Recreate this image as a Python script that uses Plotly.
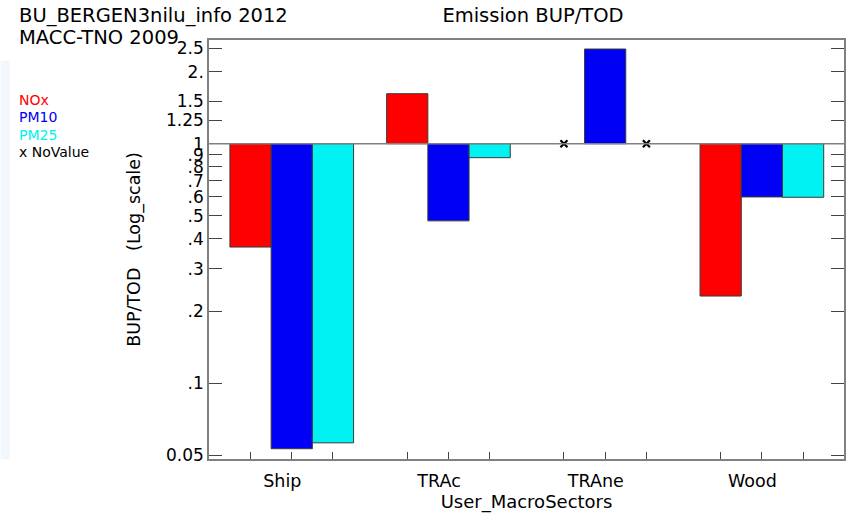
import plotly.graph_objects as go

# ---------------- data ----------------
categories = ["Ship", "TRAc", "TRAne", "Wood"]
series_names = ["NOx", "PM10", "PM25"]
nox = [0.37, 1.617, None, 0.231]
pm10 = [0.0532, 0.476, 2.485, 0.599]
pm25 = [0.0563, 0.874, None, 0.597]
y_tick_values = [0.05, 0.1, 0.2, 0.3, 0.4, 0.5, 0.6, 0.7, 0.8, 0.9, 1, 1.25, 1.5, 2, 2.5]
y_tick_labels = ["0.05", ".1", ".2", ".3", ".4", ".5", ".6", ".7", ".8", ".9", "1", "1.25", "1.5", "2.", "2.5"]
header_lines = ["BU_BERGEN3nilu_info 2012", "MACC-TNO 2009"]
chart_title = "Emission BUP/TOD"
x_title = "User_MacroSectors"
y_title = "BUP/TOD\u00a0\u00a0\u00a0(Log_scale)"
novalue_label = "x NoValue"
baseline = 1.0

# ---------------- styles ----------------
colors = ["#ff0000", "#0000f5", "#00f2f2"]
FONT = "DejaVu Sans"
bw = 0.263
offsets = [-bw, 0.0, bw]
series = [nox, pm10, pm25]

fig = go.Figure()
missing_x = []
for k, (name, vals) in enumerate(zip(series_names, series)):
    xs, ys = [], []
    for i, v in enumerate(vals):
        if v is None:
            missing_x.append(i + offsets[k])
        else:
            xs.append(i + offsets[k])
            ys.append(v - baseline)
    fig.add_trace(go.Bar(
        x=xs, y=ys, base=baseline, width=bw, name=name,
        marker=dict(color=colors[k], line=dict(color="#3a3a3a", width=1)),
        showlegend=False,
    ))

fig.add_trace(go.Scatter(
    x=missing_x, y=[baseline] * len(missing_x), mode="markers",
    marker=dict(symbol="x-thin", size=7, line=dict(color="black", width=2.2)),
    showlegend=False,
))

# dummy trace for second x-axis (category labels)
fig.add_trace(go.Scatter(x=[0], y=[baseline], xaxis="x2", mode="markers",
                         marker=dict(opacity=0), showlegend=False, hoverinfo="skip"))

bar_centers = [i + o for i in range(len(categories)) for o in offsets]
xr = [-0.528, 3.524]

fig.update_layout(
    width=854, height=519,
    margin=dict(l=209, r=8, t=40, b=60),
    paper_bgcolor="white", plot_bgcolor="white",
    barmode="overlay",
    font=dict(family=FONT, size=17, color="black"),
    xaxis=dict(range=xr, tickvals=bar_centers, ticks="inside", ticklen=7,
               tickcolor="#444", showticklabels=False, showline=True,
               mirror=True, linecolor="#808080", linewidth=1.5,
               showgrid=False, zeroline=False),
    xaxis2=dict(overlaying="x", side="bottom", anchor="y", range=xr,
                tickvals=[i - 0.06 for i in range(len(categories))],
                ticktext=categories, ticks="", showline=False, showgrid=False,
                zeroline=False, tickfont=dict(size=17.5), ticklabelstandoff=9,
                title=dict(text=x_title, font=dict(size=18), standoff=5)),
    yaxis=dict(type="log", range=[-1.317, 0.433], tickvals=y_tick_values,
               ticktext=y_tick_labels, ticks="inside", ticklen=13,
               tickcolor="#444", mirror="ticks", showline=True,
               linecolor="#808080", linewidth=1.5, showgrid=False,
               zeroline=False, tickfont=dict(size=17),
               title=dict(text=y_title, font=dict(size=17.5), standoff=21)),
    title=dict(text=chart_title, x=533 / 854, xanchor="center",
               y=1 - 15.5 / 519, yanchor="middle", yref="container",
               font=dict(size=19.5)),
)

# baseline line at 1
fig.add_shape(type="line", xref="paper", yref="y", x0=0, x1=1,
              y0=baseline, y1=baseline, line=dict(color="#808080", width=1.5))

# faint band at left edge
fig.add_shape(type="rect", xref="paper", yref="paper",
              x0=-209 / 637, x1=-200 / 637, y0=0.0, y1=0.95,
              fillcolor="#f1f7fd", line=dict(width=0), layer="below")

# header text
for j, line in enumerate(header_lines):
    fig.add_annotation(text=line, xref="paper", yref="paper",
                       x=-193 / 637, xanchor="left",
                       y=1 + (40 - (15.5 + j * 22.5)) / 419, yanchor="middle",
                       showarrow=False, font=dict(size=19.5))

# legend text
legend_items = list(zip(series_names, colors)) + [(novalue_label, "black")]
for j, (txt, col) in enumerate(legend_items):
    fig.add_annotation(text=txt, xref="paper", yref="paper",
                       x=-193 / 637, xanchor="left",
                       y=1 - (99.5 + j * 17.5 - 40) / 419, yanchor="middle",
                       showarrow=False, font=dict(size=14, color=col))

fig.write_html("out.html")
